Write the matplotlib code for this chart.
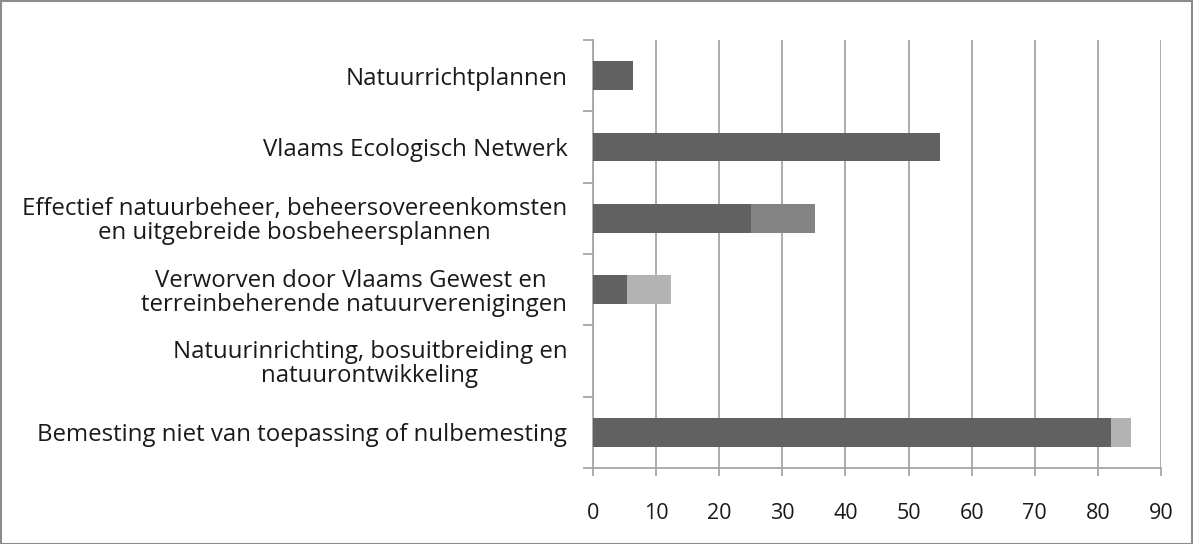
import matplotlib
matplotlib.use("Agg")
import matplotlib.pyplot as plt
import numpy as np

categories = [
    "Natuurrichtplannen",
    "Vlaams Ecologisch Netwerk",
    "Effectief natuurbeheer, beheersovereenkomsten\nen uitgebreide bosbeheersplannen",
    "Verworven door Vlaams Gewest en \nterreinbeherende natuurverenigingen",
    "Natuurinrichting, bosuitbreiding en\nnatuurontwikkeling",
    "Bemesting niet van toepassing of nulbemesting",
]
series_dark = [6.4, 55.0, 25.0, 5.4, 0.0, 82.0]
series_medium = [0.0, 0.0, 10.1, 0.0, 0.0, 0.0]
series_light = [0.0, 0.0, 0.0, 6.9, 0.0, 3.2]
xticks = [0, 10, 20, 30, 40, 50, 60, 70, 80, 90]

plt.rcParams['font.family'] = ['Open Sans', 'DejaVu Sans']

W, H = 1193, 544
fig = plt.figure(figsize=(W / 100, H / 100), dpi=100)
ax = fig.add_axes([593 / W, 1 - 468 / H, (1161 - 593) / W, (468 - 40) / H])

y = np.arange(len(categories))
h = 0.4
d = np.array(series_dark)
m = np.array(series_medium)
l = np.array(series_light)
ax.barh(y, d, height=h, color="#616161", zorder=3)
ax.barh(y, m, left=d, height=h, color="#838383", zorder=3)
ax.barh(y, l, left=d + m, height=h, color="#b3b3b3", zorder=3)

ax.set_xlim(0, 90)
ax.set_ylim(len(categories) - 0.5, -0.5)
ax.set_xticks(xticks)
ax.set_xticklabels([str(t) for t in xticks])
ax.xaxis.grid(True, color="#a6a6a6", linewidth=1.3, zorder=0)
ax.set_axisbelow(True)

ax.set_yticks(y)
ax.set_yticklabels(categories, multialignment="center", linespacing=1.0)
ax.tick_params(axis="y", length=0, pad=18.5, labelsize=17.3, labelcolor="#1a1a1a")
ax.set_yticks(np.arange(-0.5, len(categories), 1.0), minor=True)
ax.tick_params(axis="y", which="minor", length=7, width=1.3, color="#a6a6a6")
ax.tick_params(axis="x", length=6, width=1.3, color="#a6a6a6", pad=19,
               labelsize=15.5, labelcolor="#1a1a1a")

for s in ["top", "right"]:
    ax.spines[s].set_visible(False)
for s in ["left", "bottom"]:
    ax.spines[s].set_color("#a6a6a6")
    ax.spines[s].set_linewidth(1.3)

border = plt.Rectangle((0.5 / W, 0.5 / H), 1 - 1.5 / W, 1 - 1.5 / H,
                       transform=fig.transFigure, fill=False,
                       edgecolor="#8c8c8c", linewidth=1.5)
fig.patches.append(border)

fig.savefig("out.png", dpi=100)
